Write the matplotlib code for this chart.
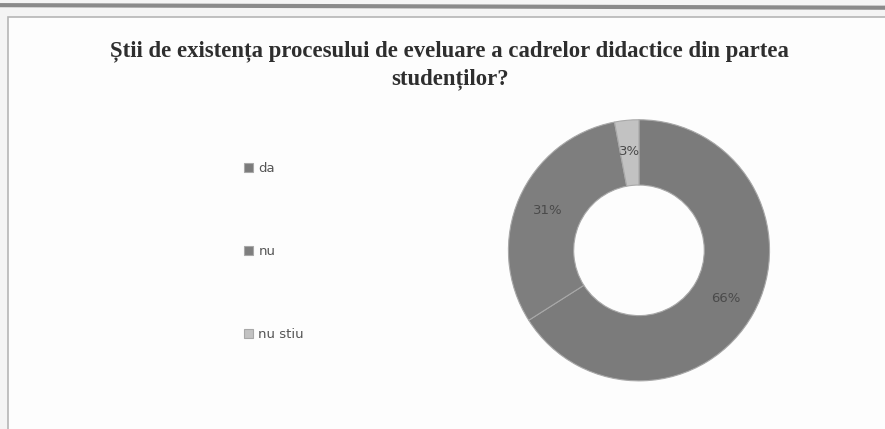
import matplotlib.pyplot as plt
from matplotlib.patches import Rectangle
from matplotlib.lines import Line2D

# data
labels = ['da', 'nu', 'nu stiu']
values = [66, 31, 3]
colors = ['#7b7b7b', '#7e7e7e', '#c2c2c2']
title = 'Știi de existența procesului de eveluare a cadrelor didactice din partea\nstudenților?'

fig = plt.figure(figsize=(8.85, 4.29), dpi=100)
fig.patch.set_facecolor('#f4f4f4')

# chart frame (scanned page)
fig.patches.append(Rectangle((0.009, -0.02), 1.0, 0.98, transform=fig.transFigure,
                             facecolor='#fdfdfd', edgecolor='#b5b5b5', linewidth=1.2,
                             zorder=-5))
fig.lines.append(Line2D([0, 1], [0.988, 0.982], transform=fig.transFigure,
                        color='#8a8a8a', linewidth=3))

fig.text(0.508, 0.848, title, ha='center', va='center', fontsize=16.4,
         fontweight='bold', family='Liberation Serif', color='#2e2e2e',
         linespacing=1.4)

ax = fig.add_axes([0.573, 0.109, 0.298, 0.615])
ax.set_zorder(2)
wedges, _, autotexts = ax.pie(values, colors=colors, startangle=90, counterclock=False,
                              autopct='%d%%', pctdistance=0.76,
                              wedgeprops=dict(width=0.5, edgecolor='#a8a8a8', linewidth=0.8),
                              textprops=dict(fontsize=9.5, color='#4a4a4a'))
ax.set_xlim(-1.01, 1.01)
ax.set_ylim(-1.01, 1.01)
ax.set_aspect('equal')
ax.axis('off')

fig.legend(wedges, labels, loc='upper left', bbox_to_anchor=(0.262, 0.65),
           frameon=False, handlelength=0.7, handleheight=0.7, handletextpad=0.4,
           labelspacing=5.3, fontsize=9.5, labelcolor='#555555')

fig.savefig('out.png', dpi=100, facecolor=fig.get_facecolor())
